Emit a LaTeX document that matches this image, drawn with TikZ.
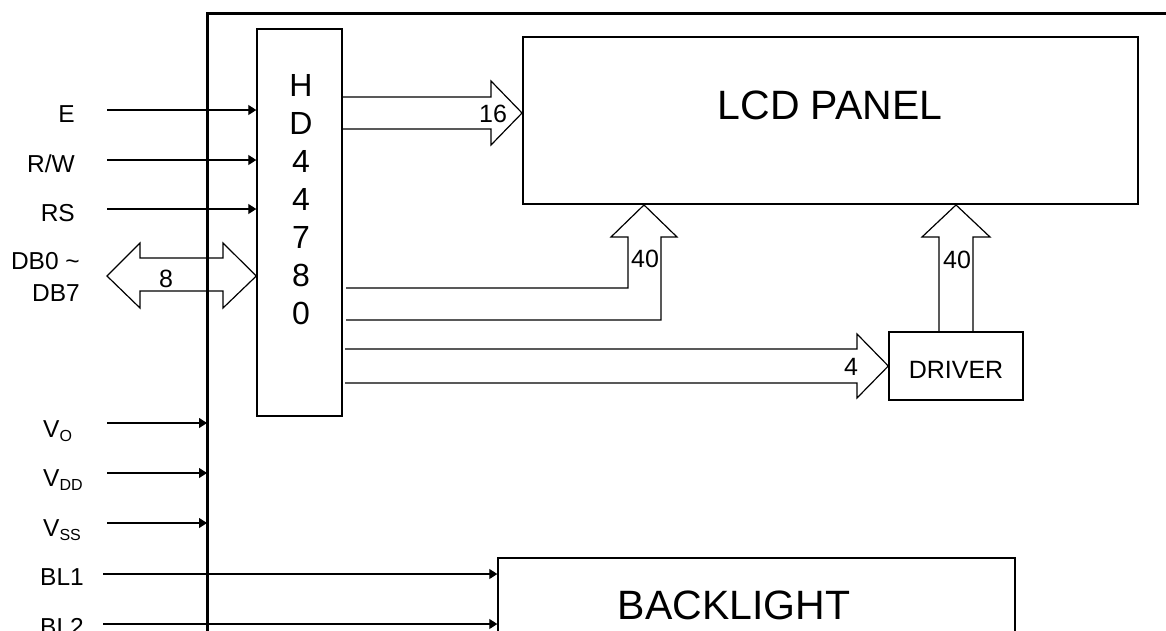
\documentclass[tikz,border=0pt]{standalone}
\usepackage{fontspec}
\setmainfont{Liberation Sans}
\usetikzlibrary{arrows.meta}

\newcommand{\lowidx}[1]{\raisebox{-4pt}{\fontsize{16}{16}\selectfont #1}}

\tikzset{
  sig/.style={line width=1.2pt, -{Triangle[length=8pt,width=10pt]}},
  bus/.style={line width=1.2pt, line join=miter},
  blk/.style={draw, line width=1.4pt, inner sep=0pt},
  lbl/.style={font=\fontsize{24.5}{28}\selectfont, inner sep=0pt},
  num/.style={font=\fontsize{25}{28}\selectfont, inner sep=0pt},
  big/.style={font=\fontsize{41}{44}\selectfont, inner sep=0pt},
}

\begin{document}
\begin{tikzpicture}[x=1pt,y=-1pt]
\useasboundingbox (0,0) rectangle (1166,630);
\clip (0,0) rectangle (1166,630);

% boxes
\node[blk, minimum width=85pt, minimum height=387pt] (hd) at (299.5,222.5) {};
\node[font=\fontsize{32}{38}\selectfont, align=center, anchor=north, inner sep=0pt] (hdtext) at (301,74) {H\\D\\4\\4\\7\\8\\0};
\node[blk, line width=1.9pt, minimum width=615pt, minimum height=167pt] (lcd) at (830.5,120.5) {};
\node[big, anchor=base] (lcdtext) at (830,119) {LCD PANEL};
\node[blk, minimum width=134pt, minimum height=68pt] (drv) at (956,366) {};
\node[num, anchor=base] (drvtext) at (956,378) {DRIVER};
\node[blk, minimum width=517pt, minimum height=140pt] (bl) at (756.5,628) {};
\node[big, anchor=base] (bltext) at (734,619) {BACKLIGHT};

% control inputs
\node[lbl, anchor=base east] (lE) at (75,122) {E};
\node[lbl, anchor=base east] (lRW) at (75,172) {R/W};
\node[lbl, anchor=base east] (lRS) at (75,221) {RS};
\coordinate (inE) at (107,110);
\coordinate (inRW) at (107,160);
\coordinate (inRS) at (107,209);
\draw[sig] (inE) -- (inE -| hd.west);
\draw[sig] (inRW) -- (inRW -| hd.west);
\draw[sig] (inRS) -- (inRS -| hd.west);

% data bus
\node[lbl, anchor=base east] (lDBa) at (80,269) {DB0 \char`\~};
\node[lbl, anchor=base east] (lDBb) at (80,301) {DB7};
\draw[bus] (107,276) -- (140,243) -- (140,258) -- (223,258) -- (223,243) -- (hd.west |- 0,276)
  -- (223,308) -- (223,291) -- (140,291) -- (140,308) -- cycle;
\node[num, anchor=base] (n8) at (166,287) {8};

% buses out of the controller
\draw[bus] (hd.east |- 0,97) -- (491,97) -- (491,81) -- (lcd.west |- 0,113) -- (491,145) -- (491,129) -- (hd.east |- 0,129);
\node[num, anchor=base] (n16) at (493,122) {16};
\draw[bus] (346,288) -- (628,288) -- (628,237) -- (611,237) -- (lcd.south -| 644,0) -- (677,237) -- (661,237) -- (661,320) -- (346,320);
\node[num, anchor=base] (n40a) at (645,267) {40};
\draw[bus] (345,349) -- (857,349) -- (857,334) -- (drv.west) -- (857,398) -- (857,383) -- (345,383);
\node[num, anchor=base] (n4) at (851,375) {4};
\draw[bus] (939,0 |- drv.north) -- (939,237) -- (922,237) -- (drv.north |- lcd.south) -- (990,237) -- (973,237) -- (973,0 |- drv.north);
\node[num, anchor=base] (n40b) at (957,268) {40};

% supply and backlight
\node[lbl, anchor=base west] (lVO) at (43,437) {V\lowidx{O}};
\node[lbl, anchor=base west] (lVDD) at (43,486) {V\lowidx{DD}};
\node[lbl, anchor=base west] (lVSS) at (43,536) {V\lowidx{SS}};
\node[lbl, anchor=base west] (lBL1) at (40,585) {BL1};
\node[lbl, anchor=base west] (lBL2) at (40,635) {BL2};
\coordinate (fr) at (207,13);
\coordinate (inVO) at (107,423);
\coordinate (inVDD) at (107,473);
\coordinate (inVSS) at (107,523);
\coordinate (inBL1) at (103,574);
\coordinate (inBL2) at (103,624);
\draw[sig] (inVO) -- (inVO -| fr);
\draw[sig] (inVDD) -- (inVDD -| fr);
\draw[sig] (inVSS) -- (inVSS -| fr);
\draw[sig] (inBL1) -- (inBL1 -| bl.west);
\draw[sig] (inBL2) -- (inBL2 -| bl.west);

% module outline
\draw[line width=3pt] (fr |- 0,640) -- (fr) -- (1170,13);
\end{tikzpicture}
\end{document}
